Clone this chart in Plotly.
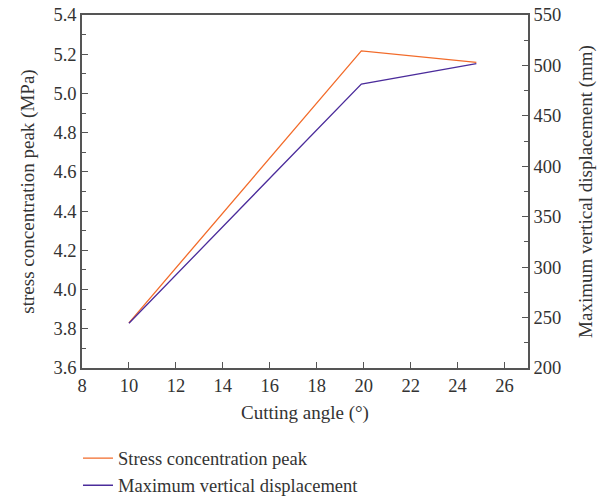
import plotly.graph_objects as go

cutting_angle = [10, 19.9, 24.8]
stress_peak = [3.83, 5.217, 5.158]
max_disp = [244.3, 481.6, 501.7]

font_family = "Liberation Serif, Times New Roman, serif"
axis_color = "#555555"
text_color = "#333333"

fig = go.Figure()
fig.add_trace(go.Scatter(x=cutting_angle, y=stress_peak, mode="lines",
                         name="Stress concentration peak",
                         line=dict(color="#F26B2A", width=1.3)))
fig.add_trace(go.Scatter(x=cutting_angle, y=max_disp, mode="lines",
                         name="Maximum vertical displacement",
                         line=dict(color="#4B2C9B", width=1.3), yaxis="y2"))

fig.update_layout(
    width=600, height=500,
    margin=dict(l=82, r=72, t=15, b=132, autoexpand=False),
    paper_bgcolor="white", plot_bgcolor="white",
    font=dict(family=font_family, size=19, color=text_color),
    showlegend=True,
    legend=dict(x=-0.009, y=-0.203, xanchor="left", yanchor="top",
                orientation="v", font=dict(size=18.5, color=text_color),
                tracegroupgap=0, bgcolor="rgba(0,0,0,0)"),
    xaxis=dict(range=[8, 27], tickvals=[8, 10, 12, 14, 16, 18, 20, 22, 24, 26],
               ticks="inside", ticklen=6, tickcolor=axis_color,
               showline=True, linecolor=axis_color, linewidth=1.5, mirror=True,
               showgrid=False, zeroline=False,
               title=dict(text="Cutting angle (°)", font=dict(size=19), standoff=11),
               tickfont=dict(size=18.5)),
    yaxis=dict(range=[3.6, 5.4], tickvals=[3.6, 3.8, 4.0, 4.2, 4.4, 4.6, 4.8, 5.0, 5.2, 5.4],
               tickformat=".1f",
               ticks="inside", ticklen=6, tickcolor=axis_color,
               minor=dict(ticks="inside", ticklen=4, dtick=0.1, tickcolor=axis_color),
               showline=True, linecolor=axis_color, linewidth=1.5,
               showgrid=False, zeroline=False,
               title=dict(text="stress concentration peak (MPa)", font=dict(size=19), standoff=14),
               tickfont=dict(size=18.5)),
    yaxis2=dict(range=[200, 550], tickvals=[200, 250, 300, 350, 400, 450, 500, 550],
                overlaying="y", side="right",
                ticks="inside", ticklen=6, tickcolor=axis_color,
                minor=dict(ticks="inside", ticklen=4, dtick=25, tickcolor=axis_color),
                showline=True, linecolor=axis_color, linewidth=1.5,
                showgrid=False, zeroline=False,
                title=dict(text="Maximum vertical displacement (mm)", font=dict(size=19), standoff=18),
                tickfont=dict(size=18.5)),
)

fig.write_html("out.html")
